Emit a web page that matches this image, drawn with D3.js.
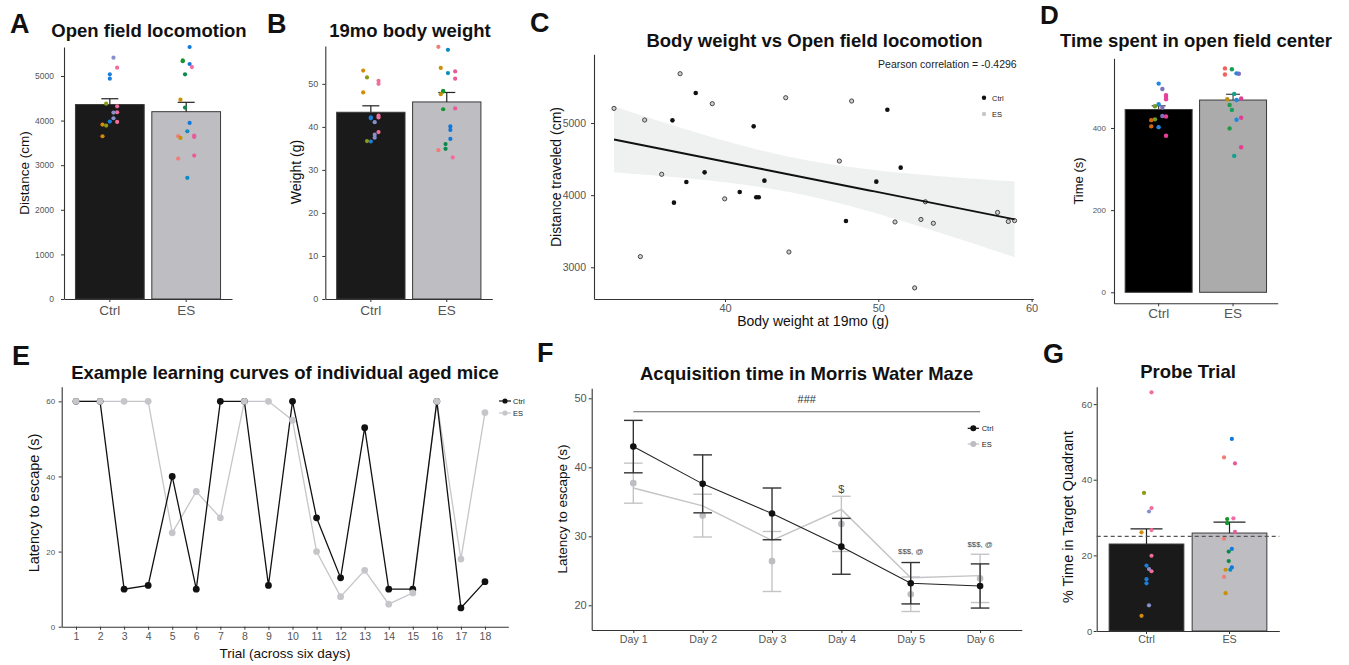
<!DOCTYPE html>
<html>
<head>
<meta charset="utf-8">
<script src="https://cdn.jsdelivr.net/npm/d3@7"></script>
<style>
body { margin: 0; background: #fff; }
</style>
</head>
<body>
<svg id="fig" width="1349" height="665"></svg>
<script>
var groups = ["Ctrl", "ES"];
var ctrlLitters = ["c1", "c2", "c3", "c4", "c5"];
var esLitters = ["e1", "e2", "e3", "e4", "e5", "e6", "e7", "e8"];
var litterColors = {c1: "#d68a0a", c2: "#8c9a14", c3: "#1a7fdc", c4: "#8890cc", c5: "#ef6e9c",
	e1: "#f27d78", e2: "#c99000", e3: "#14952f", e4: "#0a8a4a", e5: "#0a8bc4", e6: "#1078dc", e7: "#f46aa4", e8: "#e85c98"};
var litterColorsD = {c1: "#d4640c", c2: "#6e9e22", c3: "#1f88e0", c4: "#7a72c0", c5: "#e6409a",
	e1: "#f0605e", e2: "#c08c10", e3: "#1f9b4a", e4: "#15a05a", e5: "#14a08e", e6: "#1c88e0", e7: "#7a6cc0", e8: "#e04090"};

// A - open field distance
var locoMean = [4360, 4200];
var locoSE = [130, 210];
var locoTicks = [0, 1000, 2000, 3000, 4000, 5000];
var locoCtrl = [["c4", 5410], ["c5", 5187], ["c3", 5037], ["c3", 4940], ["c2", 4380], ["c5", 4321], ["c4", 4179],
	["c5", 4187], ["c4", 4052], ["c3", 3978], ["c5", 3970], ["c1", 3910], ["c2", 3888], ["c1", 3649]];
var locoES = [["e6", 5650], ["e3", 5350], ["e3", 5330], ["e6", 5269], ["e7", 5201], ["e4", 5037], ["e2", 4470],
	["e4", 4291], ["e6", 3948], ["e5", 3761], ["e1", 3650], ["e2", 3612], ["e8", 3664], ["e8", 3634], ["e8", 3216],
	["e1", 3149], ["e5", 2716]];

// B - body weight
var weightMean = [43.4, 45.8];
var weightSE = [1.5, 2.2];
var weightTicks = [0, 10, 20, 30, 40, 50];
var weightCtrl = [["c1", 53.1], ["c2", 51.5], ["c1", 48.0], ["c5", 50.7], ["c5", 50.0], ["c3", 42.2], ["c3", 42.0],
	["c5", 42.6], ["c5", 42.2], ["c4", 41.1], ["c5", 38.8], ["c4", 38.2], ["c4", 37.5], ["c2", 36.7], ["c3", 36.6]];
var weightES = [["e1", 58.6], ["e5", 57.9], ["e2", 53.7], ["e5", 52.5], ["e8", 52.9], ["e8", 51.2], ["e3", 48.4],
	["e3", 48.2], ["e2", 47.6], ["e3", 44.1], ["e8", 44.3], ["e6", 40.1], ["e6", 39.3], ["e6", 37.2], ["e4", 36.0],
	["e4", 34.9], ["e1", 34.6], ["e7", 32.9]];

// C - weight vs distance, [weight, distance]
var scatterCtrl = [[38.09, 5416], [36.57, 5037], [41.87, 4954], [50.59, 5185], [38.67, 4316], [37.48, 4182],
	[36.67, 3896], [40.96, 4044], [42.04, 3970], [42.20, 3970], [42.57, 4201], [47.89, 3642], [49.87, 4187], [51.46, 4381]];
var scatterES = [[32.76, 5203], [37.07, 5684], [39.17, 5268], [34.76, 5042], [35.87, 4289], [34.48, 3148],
	[39.98, 3949], [43.96, 5351], [44.17, 3212], [48.26, 5305], [47.46, 4473], [51.09, 3628], [52.78, 3663],
	[53.59, 3610], [53.07, 3908], [52.37, 2714], [57.78, 3760], [58.48, 3635], [58.89, 3647]];
var scatterXTicks = [40, 50, 60];
var scatterYTicks = [3000, 4000, 5000];
var pearsonLabel = "Pearson correlation = -0.4296";

// D - time in center
var centerMean = [445, 468];
var centerSE = [9, 14];
var centerTicks = [0, 200, 400];
var centerCtrl = [["c3", 508], ["c4", 495], ["c5", 480], ["c5", 476], ["c5", 470], ["c3", 458], ["c2", 453],
	["c4", 450], ["c4", 429], ["c5", 428], ["c2", 421], ["c1", 419], ["c1", 404], ["c3", 402], ["c5", 381]];
var centerES = [["e1", 545], ["e4", 543], ["e1", 530], ["e6", 533], ["e7", 532], ["e5", 483], ["e2", 470],
	["e8", 472], ["e6", 468], ["e3", 456], ["e4", 444], ["e8", 425], ["e6", 420], ["e3", 399], ["e8", 353], ["e5", 332]];

// E - individual learning curves
var trials = [1, 2, 3, 4, 5, 6, 7, 8, 9, 10, 11, 12, 13, 14, 15, 16, 17, 18];
var learnCtrl = [60, 60, 10, 11, 40, 10, 60, 60, 11, 60, 29, 13, 53, 10, 10, 60, 5, 12];
var learnES = [60, 60, 60, 60, 25, 36, 29, 60, 60, 55, 20, 8, 15, 6, 9, 60, 18, 57];
var learnTicks = [0, 20, 40, 60];

// F - acquisition
var days = ["Day 1", "Day 2", "Day 3", "Day 4", "Day 5", "Day 6"];
var acqCtrlMean = [43.0, 37.6, 33.3, 28.5, 23.2, 22.8];
var acqCtrlLo = [39.2, 33.4, 29.5, 24.5, 20.2, 19.6];
var acqCtrlHi = [46.8, 41.8, 37.0, 32.6, 26.2, 26.0];
var acqESMean = [37.7, 33.0, 26.4, 31.8, 21.6, 23.9];
var acqESLo = [34.8, 29.9, 22.0, 27.8, 19.1, 20.4];
var acqESHi = [40.6, 36.1, 30.7, 35.8, 24.1, 27.4];
var acqESLine = [37.0, 34.4, 29.4, 33.9, 24.0, 24.3];
var acqTicks = [20, 30, 40, 50];
var acqMarks = [[4, 36.3, "$"], [5, 27.4, "$$$, @"], [6, 28.5, "$$$, @"]];

// G - probe trial
var probeMean = [23.0, 25.9];
var probeSE = [4.0, 2.9];
var probeTicks = [0, 20, 40, 60];
var chanceLevel = 25;
var probeCtrl = [["c5", 63.1], ["c2", 36.5], ["c5", 32.5], ["c4", 31.6], ["c1", 26.1], ["c5", 26.7], ["c5", 19.9],
	["c3", 17.3], ["c4", 16.4], ["c5", 15.8], ["c3", 13.7], ["c3", 12.6], ["c4", 6.8], ["c1", 4.0]];
var probeES = [["e6", 50.8], ["e1", 45.9], ["e8", 44.3], ["e3", 29.6], ["e3", 28.5], ["e7", 29.8], ["e8", 26.2],
	["e1", 24.4], ["e6", 21.7], ["e4", 21.0], ["e4", 18.5], ["e2", 16.2], ["e6", 16.8], ["e5", 16.2], ["e1", 14.3], ["e2", 10.0]];

var FONT = '"Liberation Sans", Arial, Helvetica, sans-serif';
var svg = d3.select("#fig");
var plain = d3.format("d");

function addText(x, y, str, size, opt) {
	opt = opt || {};
	return svg.append("text")
		.attr("x", x).attr("y", y)
		.attr("font-family", FONT)
		.attr("font-size", size)
		.attr("font-weight", opt.bold ? "bold" : "normal")
		.attr("text-anchor", opt.anchor || "start")
		.attr("fill", opt.fill || "#111")
		.text(str);
}

function yTitle(x, y, str, size) {
	svg.append("text")
		.attr("transform", "translate(" + x + "," + y + ") rotate(-90)")
		.attr("text-anchor", "middle")
		.attr("dominant-baseline", "central")
		.attr("font-family", FONT)
		.attr("font-size", size)
		.attr("fill", "#111")
		.text(str);
}

function styleAxis(g, size) {
	g.attr("font-family", FONT).attr("font-size", size);
	g.select("path.domain").attr("stroke", "#333").attr("stroke-width", 1.1);
	g.selectAll(".tick line").attr("stroke", "#333");
	g.selectAll(".tick text").attr("fill", "#555");
}

function barPanel(p) {
	var x = d3.scaleBand().domain(groups).range([p.left, p.right]).paddingInner(0.1).paddingOuter(0.15);
	var y = d3.scaleLinear().domain(p.yDomain).range([p.bottom, p.top]);
	var g = svg.append("g");
	g.selectAll("rect").data(p.means).enter().append("rect")
		.attr("x", function (d, i) { return x(groups[i]); })
		.attr("y", function (d) { return y(d); })
		.attr("width", x.bandwidth())
		.attr("height", function (d) { return y(0) - y(d); })
		.attr("fill", function (d, i) { return p.fills[i]; })
		.attr("stroke", "#3a3a3a")
		.attr("stroke-width", 1);

	p.means.forEach(function (m, i) {
		var cx = x(groups[i]) + x.bandwidth() / 2;
		var top = y(m + p.se[i]);
		g.append("line").attr("x1", cx).attr("x2", cx).attr("y1", y(m)).attr("y2", top)
			.attr("stroke", p.errColor).attr("stroke-width", 1.2);
		g.append("line").attr("x1", cx - p.capW / 2).attr("x2", cx + p.capW / 2).attr("y1", top).attr("y2", top)
			.attr("stroke", p.errColor).attr("stroke-width", 1.2);
	});

	[p.ctrl, p.es].forEach(function (pts, gi) {
		var lit = gi === 0 ? ctrlLitters : esLitters;
		var mid = x(groups[gi]) + x.bandwidth() / 2;
		g.selectAll(null).data(pts).enter().append("circle")
			.attr("cx", function (d) { return mid + (lit.indexOf(d[0]) - (lit.length - 1) / 2) * p.dodge / lit.length; })
			.attr("cy", function (d) { return y(d[1]); })
			.attr("r", p.r)
			.attr("fill", function (d) { return p.palette[d[0]]; });
	});

	var ya = g.append("g").attr("transform", "translate(" + p.left + ",0)")
		.call(d3.axisLeft(y).tickValues(p.ticks).tickFormat(plain).tickSize(3).tickPadding(p.yPad).tickSizeOuter(0));
	styleAxis(ya, p.yFont);
	var xa = g.append("g").attr("transform", "translate(0," + p.bottom + ")")
		.call(d3.axisBottom(x).tickSize(3).tickPadding(p.xPad).tickSizeOuter(0));
	styleAxis(xa, p.xFont);
	return y;
}

// ---------- A ----------
barPanel({left: 64, right: 232, top: 47, bottom: 299, yDomain: [0, 5650], ticks: locoTicks,
	means: locoMean, se: locoSE, ctrl: locoCtrl, es: locoES, fills: ["#1a1a1a", "#bdbdc2"],
	palette: litterColors, errColor: "#222", capW: 17, dodge: 18.3, r: 2.1,
	yFont: 8.5, yPad: 7, xFont: 13.5, xPad: 3});
addText(10, 33, "A", 27, {bold: true});
addText(149, 37, "Open field locomotion", 18.5, {bold: true, anchor: "middle"});
yTitle(24, 173, "Distance (cm)", 13.5);

// ---------- B ----------
barPanel({left: 325.3, right: 492.3, top: 46, bottom: 299, yDomain: [0, 58.8], ticks: weightTicks,
	means: weightMean, se: weightSE, ctrl: weightCtrl, es: weightES, fills: ["#1a1a1a", "#bdbdc2"],
	palette: litterColors, errColor: "#222", capW: 17, dodge: 19.2, r: 2.1,
	yFont: 9, yPad: 4, xFont: 13.5, xPad: 3});
addText(267, 33, "B", 27, {bold: true});
addText(410, 37, "19mo body weight", 18.5, {bold: true, anchor: "middle"});
yTitle(296, 172, "Weight (g)", 14);

// ---------- C ----------
(function () {
	var x = d3.scaleLinear().domain([31.455, 60.11]).range([594, 1033.3]);
	var y = d3.scaleLinear().domain([2560, 5953]).range([299, 54.3]);
	var g = svg.append("g");
	var all = scatterCtrl.concat(scatterES);
	var n = all.length;
	var mx = d3.mean(all, function (d) { return d[0]; });
	var my = d3.mean(all, function (d) { return d[1]; });
	var sxx = d3.sum(all, function (d) { return (d[0] - mx) * (d[0] - mx); });
	var sxy = d3.sum(all, function (d) { return (d[0] - mx) * (d[1] - my); });
	var b = sxy / sxx, a = my - b * mx;
	var s = Math.sqrt(d3.sum(all, function (d) { var r = d[1] - a - b * d[0]; return r * r; }) / (n - 2));
	var tq = 2.04; // t(0.975, 31)
	var ext = d3.extent(all, function (d) { return d[0]; });
	var xs = d3.range(81).map(function (i) { return ext[0] + (ext[1] - ext[0]) * i / 80; });
	var band = xs.map(function (v) {
		var fit = a + b * v;
		var se = s * Math.sqrt(1 / n + (v - mx) * (v - mx) / sxx);
		return {x: v, fit: fit, lo: fit - tq * se, hi: fit + tq * se};
	});

	g.append("path").datum(band)
		.attr("d", d3.area().x(function (d) { return x(d.x); }).y0(function (d) { return y(d.lo); }).y1(function (d) { return y(d.hi); }))
		.attr("fill", "#eff1f1");

	g.selectAll(null).data(scatterES).enter().append("circle")
		.attr("cx", function (d) { return x(d[0]); })
		.attr("cy", function (d) { return y(d[1]); })
		.attr("r", 2.1)
		.attr("fill", "#cfcfcf").attr("stroke", "#333").attr("stroke-width", 0.9);
	g.selectAll(null).data(scatterCtrl).enter().append("circle")
		.attr("cx", function (d) { return x(d[0]); })
		.attr("cy", function (d) { return y(d[1]); })
		.attr("r", 2.3)
		.attr("fill", "#111");

	g.append("path").datum(band)
		.attr("d", d3.line().x(function (d) { return x(d.x); }).y(function (d) { return y(d.fit); }))
		.attr("fill", "none").attr("stroke", "#111").attr("stroke-width", 2);

	var ya = g.append("g").attr("transform", "translate(594,0)")
		.call(d3.axisLeft(y).tickValues(scatterYTicks).tickFormat(plain).tickSize(3).tickPadding(5).tickSizeOuter(0));
	styleAxis(ya, 10.5);
	var xa = g.append("g").attr("transform", "translate(0,299)")
		.call(d3.axisBottom(x).tickValues(scatterXTicks).tickFormat(plain).tickSize(3).tickPadding(2).tickSizeOuter(0));
	styleAxis(xa, 11);

	addText(1016.7, 68.3, pearsonLabel, 10.5, {anchor: "end", fill: "#222"});
	svg.append("circle").attr("cx", 984).attr("cy", 97.7).attr("r", 2.2).attr("fill", "#111");
	svg.append("circle").attr("cx", 984).attr("cy", 114).attr("r", 2.2).attr("fill", "#c8c8c8");
	addText(992, 100.5, "Ctrl", 7.5, {fill: "#222"});
	addText(992, 116.8, "ES", 7.5, {fill: "#222"});
})();
addText(530, 31.7, "C", 27, {bold: true});
addText(814.5, 46.7, "Body weight vs Open field locomotion", 18.5, {bold: true, anchor: "middle"});
yTitle(556, 177, "Distance traveled (cm)", 14);
addText(813, 326, "Body weight at 19mo (g)", 14, {anchor: "middle"});

// ---------- D ----------
barPanel({left: 1114, right: 1277.7, top: 58.3, bottom: 303.3, yDomain: [-26.8, 569.6], ticks: centerTicks,
	means: centerMean, se: centerSE, ctrl: centerCtrl, es: centerES, fills: ["#000", "#ababab"],
	palette: litterColorsD, errColor: "#444", capW: 14, dodge: 18.5, r: 2.2,
	yFont: 8, yPad: 5, xFont: 13.5, xPad: 2});
addText(1040, 24, "D", 26, {bold: true});
addText(1196, 47, "Time spent in open field center", 18.5, {bold: true, anchor: "middle"});
yTitle(1078, 181, "Time (s)", 13);

// ---------- E ----------
(function () {
	var x = d3.scaleLinear().domain([0.406, 18.97]).range([61.7, 508.3]);
	var y = d3.scaleLinear().domain([0, 63.9]).range([626.7, 386.7]);
	var g = svg.append("g");
	var line = d3.line().x(function (d, i) { return x(trials[i]); }).y(function (d) { return y(d); });
	g.append("path").datum(learnES).attr("d", line).attr("fill", "none").attr("stroke", "#c6c6ca").attr("stroke-width", 1.3);
	g.append("path").datum(learnCtrl).attr("d", line).attr("fill", "none").attr("stroke", "#111").attr("stroke-width", 1.3);
	g.selectAll(null).data(learnCtrl).enter().append("circle")
		.attr("cx", function (d, i) { return x(trials[i]); }).attr("cy", function (d) { return y(d); })
		.attr("r", 3.4).attr("fill", "#111");
	g.selectAll(null).data(learnES).enter().append("circle")
		.attr("cx", function (d, i) { return x(trials[i]); }).attr("cy", function (d) { return y(d); })
		.attr("r", 3.4).attr("fill", "#c6c6ca");

	var ya = g.append("g").attr("transform", "translate(61.7,0)")
		.call(d3.axisLeft(y).tickValues(learnTicks).tickFormat(plain).tickSize(3).tickPadding(3.5).tickSizeOuter(0));
	styleAxis(ya, 8);
	var xa = g.append("g").attr("transform", "translate(0,626.7)")
		.call(d3.axisBottom(x).tickValues(trials).tickFormat(plain).tickSize(3).tickPadding(2.8).tickSizeOuter(0));
	styleAxis(xa, 10.5);

	// legend
	[["Ctrl", "#111", 401], ["ES", "#c6c6ca", 413]].forEach(function (l) {
		svg.append("line").attr("x1", 499).attr("x2", 511).attr("y1", l[2]).attr("y2", l[2]).attr("stroke", l[1]).attr("stroke-width", 1.2);
		svg.append("circle").attr("cx", 505).attr("cy", l[2]).attr("r", 2.6).attr("fill", l[1]);
		addText(513, l[2] + 2.6, l[0], 7.5, {fill: "#222"});
	});
})();
addText(12, 365, "E", 27, {bold: true});
addText(285, 379, "Example learning curves of individual aged mice", 18.5, {bold: true, anchor: "middle"});
yTitle(34, 503, "Latency to escape (s)", 14.5);
addText(285, 658, "Trial (across six days)", 13.5, {anchor: "middle"});

// ---------- F ----------
(function () {
	var x = d3.scaleLinear().domain([0.4, 6.6]).range([591.7, 1021.7]);
	var y = d3.scaleLinear().domain([16.42, 51.45]).range([630, 388.3]);
	var g = svg.append("g");
	var dayX = function (i) { return x(i + 1); };

	function errBars(lo, hi, color) {
		lo.forEach(function (v, i) {
			var cx = dayX(i);
			g.append("line").attr("x1", cx).attr("x2", cx).attr("y1", y(v)).attr("y2", y(hi[i])).attr("stroke", color).attr("stroke-width", 1.4);
			[v, hi[i]].forEach(function (w) {
				g.append("line").attr("x1", cx - 9.3).attr("x2", cx + 9.3).attr("y1", y(w)).attr("y2", y(w)).attr("stroke", color).attr("stroke-width", 1.4);
			});
		});
	}
	var line = d3.line().x(function (d, i) { return dayX(i); }).y(function (d) { return y(d); });

	errBars(acqESLo, acqESHi, "#c4c4c8");
	g.append("path").datum(acqESLine).attr("d", line).attr("fill", "none").attr("stroke", "#c4c4c8").attr("stroke-width", 1.4);
	g.selectAll(null).data(acqESMean).enter().append("circle")
		.attr("cx", function (d, i) { return dayX(i); }).attr("cy", function (d) { return y(d); })
		.attr("r", 3.3).attr("fill", "#bdbdc2");
	errBars(acqCtrlLo, acqCtrlHi, "#333");
	g.append("path").datum(acqCtrlMean).attr("d", line).attr("fill", "none").attr("stroke", "#222").attr("stroke-width", 1.1);
	g.selectAll(null).data(acqCtrlMean).enter().append("circle")
		.attr("cx", function (d, i) { return dayX(i); }).attr("cy", function (d) { return y(d); })
		.attr("r", 3.3).attr("fill", "#111");

	// ### bracket
	g.append("line").attr("x1", dayX(0)).attr("x2", dayX(5)).attr("y1", y(48.05)).attr("y2", y(48.05))
		.attr("stroke", "#666").attr("stroke-width", 1);
	addText((dayX(0) + dayX(5)) / 2, y(49.3), "###", 11, {anchor: "middle", fill: "#333"});
	acqMarks.forEach(function (m) {
		addText(dayX(m[0] - 1), y(m[1]), m[2], m[2] === "$" ? 11 : 7.8, {anchor: "middle", fill: "#444"});
	});

	var ya = g.append("g").attr("transform", "translate(591.7,0)")
		.call(d3.axisLeft(y).tickValues(acqTicks).tickFormat(plain).tickSize(3).tickPadding(2).tickSizeOuter(0));
	styleAxis(ya, 11);
	var xa = g.append("g").attr("transform", "translate(0,630)")
		.call(d3.axisBottom(x).tickValues([1, 2, 3, 4, 5, 6]).tickFormat(function (d) { return days[d - 1]; })
			.tickSize(3).tickPadding(2.7).tickSizeOuter(0));
	styleAxis(xa, 10.7);

	[["Ctrl", "#111", 428.3], ["ES", "#bdbdc2", 444]].forEach(function (l) {
		svg.append("line").attr("x1", 967.7).attr("x2", 979).attr("y1", l[2]).attr("y2", l[2]).attr("stroke", l[1]).attr("stroke-width", 1.2);
		svg.append("circle").attr("cx", 973.3).attr("cy", l[2]).attr("r", 3).attr("fill", l[1]);
		addText(981.7, l[2] + 2.6, l[0], 7.5, {fill: "#222"});
	});
})();
addText(537, 361.7, "F", 27, {bold: true});
addText(806.7, 380, "Acquisition time in Morris Water Maze", 18.5, {bold: true, anchor: "middle"});
yTitle(562, 509, "Latency to escape (s)", 13.5);

// ---------- G ----------
(function () {
	var y = barPanel({left: 1096.7, right: 1279.3, top: 386.7, bottom: 631, yDomain: [0, 64.6], ticks: probeTicks,
		means: probeMean, se: probeSE, ctrl: probeCtrl, es: probeES, fills: ["#1a1a1a", "#bdbdc2"],
		palette: litterColors, errColor: "#222", capW: 32, dodge: 12.5, r: 2.1,
		yFont: 9.5, yPad: 1.5, xFont: 10.7, xPad: 1.7});
	svg.append("line").attr("x1", 1096.7).attr("x2", 1279.3).attr("y1", y(chanceLevel)).attr("y2", y(chanceLevel))
		.attr("stroke", "#555").attr("stroke-width", 1.2).attr("stroke-dasharray", "4,3");
})();
addText(1043, 362.5, "G", 27, {bold: true});
addText(1188, 378, "Probe Trial", 18.5, {bold: true, anchor: "middle"});
yTitle(1068, 517, "% Time in Target Quadrant", 14.5);
</script>
</body>
</html>
